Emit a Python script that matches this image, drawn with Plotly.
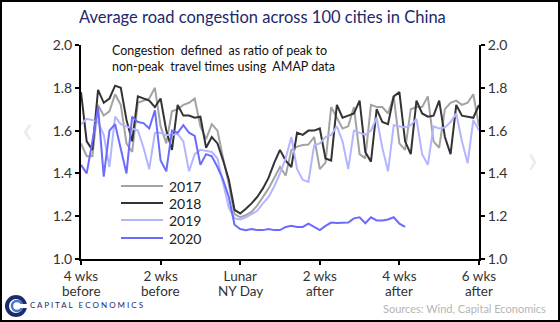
import plotly.graph_objects as go

# ---------------- data ----------------
days_all = list(range(-28, 43))      # days relative to Lunar New Year
days_2020 = list(range(-28, 30))

y2017 = [1.54, 1.48, 1.48, 1.72, 1.67, 1.69, 1.77, 1.72, 1.54, 1.50, 1.73, 1.74, 1.75, 1.80,
         1.62, 1.54, 1.69, 1.70, 1.72, 1.73, 1.75, 1.62, 1.56, 1.63, 1.60, 1.47, 1.35, 1.21,
         1.195, 1.205, 1.22, 1.25, 1.29, 1.33, 1.38, 1.43, 1.39, 1.51, 1.525, 1.533, 1.535, 1.57,
         1.42, 1.45, 1.71, 1.66, 1.61, 1.62, 1.71, 1.49, 1.47, 1.72, 1.71, 1.71, 1.68, 1.76,
         1.54, 1.51, 1.70, 1.71, 1.71, 1.76, 1.55, 1.52, 1.70, 1.73, 1.74, 1.72, 1.73, 1.77, 1.62]
y2018 = [1.78, 1.55, 1.51, 1.79, 1.73, 1.75, 1.81, 1.80, 1.65, 1.55, 1.76, 1.75, 1.74, 1.71,
         1.75, 1.60, 1.51, 1.72, 1.67, 1.67, 1.66, 1.665, 1.52, 1.57, 1.54, 1.46, 1.37, 1.23,
         1.213, 1.235, 1.26, 1.29, 1.33, 1.38, 1.45, 1.51, 1.46, 1.43, 1.59, 1.58, 1.60, 1.60,
         1.61, 1.47, 1.46, 1.72, 1.66, 1.67, 1.68, 1.74, 1.50, 1.455, 1.70, 1.64, 1.63, 1.76,
         1.78, 1.55, 1.49, 1.74, 1.68, 1.665, 1.67, 1.74, 1.57, 1.49, 1.72, 1.67, 1.665, 1.66, 1.72]
y2019 = [1.63, 1.655, 1.65, 1.64, 1.58, 1.43, 1.665, 1.63, 1.62, 1.61, 1.60, 1.52, 1.42, 1.59,
         1.59, 1.58, 1.58, 1.585, 1.55, 1.41, 1.49, 1.51, 1.505, 1.50, 1.47, 1.35, 1.24, 1.19,
         1.185, 1.195, 1.21, 1.225, 1.26, 1.29, 1.34, 1.40, 1.47, 1.57, 1.42, 1.37, 1.36, 1.53,
         1.54, 1.57, 1.58, 1.62, 1.55, 1.42, 1.60, 1.59, 1.58, 1.60, 1.66, 1.52, 1.41, 1.625,
         1.62, 1.615, 1.625, 1.655, 1.49, 1.44, 1.62, 1.61, 1.615, 1.64, 1.68, 1.55, 1.447, 1.65, 1.60]
y2020 = [1.44, 1.40, 1.55, 1.71, 1.385, 1.60, 1.63, 1.52, 1.40, 1.665, 1.64, 1.635, 1.61, 1.695,
         1.46, 1.41, 1.60, 1.59, 1.625, 1.59, 1.575, 1.44, 1.49, 1.48, 1.43, 1.37, 1.29, 1.16,
         1.14, 1.135, 1.14, 1.135, 1.135, 1.14, 1.135, 1.135, 1.15, 1.155, 1.15, 1.15, 1.165, 1.15,
         1.135, 1.155, 1.17, 1.168, 1.168, 1.17, 1.19, 1.195, 1.167, 1.195, 1.18, 1.18, 1.185,
         1.195, 1.165, 1.15]

x_tickvals = [-28, -14, 0, 14, 28, 42]
x_ticktext_top = ["4 wks", "2 wks", "Lunar", "2 wks", "4 wks", "6 wks"]
x_ticktext_bottom = ["before", "before", "NY Day", "after", "after", "after"]
y_tickvals = [1.0, 1.2, 1.4, 1.6, 1.8, 2.0]
y_ticktext = ["1.0", "1.2", "1.4", "1.6", "1.8", "2.0"]

series_names = ["2017", "2018", "2019", "2020"]
series_x = [days_all, days_all, days_all, days_2020]
series_y = [y2017, y2018, y2019, y2020]
series_colors = ["#a3a3a3", "#333333", "#b3b6ff", "#6b6bff"]

# ---------------- layout geometry ----------------
W, H = 560, 322
L, R, T, B = 81, 479, 45, 259
FONT = "Lato"


def px(xp):
    return (xp - L) / (R - L)


def py(yp):
    return (B - yp) / (B - T)


fig = go.Figure()
for name, xs, ys, col in zip(series_names, series_x, series_y, series_colors):
    fig.add_trace(go.Scatter(x=xs, y=ys, name=name, mode="lines",
                             line=dict(color=col, width=2), hoverinfo="skip"))
# transparent trace on the right-hand axis so it is drawn
fig.add_trace(go.Scatter(x=days_all, y=y2017, yaxis="y2", mode="lines",
                         line=dict(color="rgba(0,0,0,0)", width=0),
                         showlegend=False, hoverinfo="skip"))

axis_common = dict(showgrid=False, zeroline=False, showline=True, linecolor="black",
                   linewidth=2, ticks="outside", ticklen=4, tickwidth=1.5, tickcolor="black",
                   tickfont=dict(family=FONT, size=14, color="#333333"))
xaxis_style = dict(axis_common)
xaxis_style["tickfont"] = dict(family=FONT, size=13.5, color="#333333")

fig.update_layout(
    width=W, height=H, autosize=False,
    margin=dict(l=L, r=W - R, t=T, b=H - B, pad=0),
    paper_bgcolor="white", plot_bgcolor="white",
    showlegend=False,
    xaxis=dict(range=[-28, 42], tickvals=x_tickvals, ticktext=x_ticktext_top,
               ticklabelstandoff=0, **xaxis_style),
    yaxis=dict(range=[1.0, 2.0], tickvals=y_tickvals, ticktext=y_ticktext, **axis_common),
    yaxis2=dict(range=[1.0, 2.0], tickvals=y_tickvals, ticktext=y_ticktext,
                overlaying="y", side="right", **axis_common),
)

ann = []
ann.append(dict(text="Average road congestion across 100 cities in China",
                x=px(262), y=py(17), xref="paper", yref="paper", xanchor="center",
                yanchor="middle", showarrow=False,
                font=dict(family=FONT, size=16.5, color="#22286b")))
ann.append(dict(text="Congestion  defined  as ratio of peak to<br>non-peak  travel times using  AMAP data",
                x=px(110), y=py(41), xref="paper", yref="paper", xanchor="left",
                yanchor="top", align="left", showarrow=False,
                font=dict(family=FONT, size=12.5, color="#111111")))
# second line of x tick labels
for xv, txt in zip(x_tickvals, x_ticktext_bottom):
    ann.append(dict(text=txt, x=xv, y=py(291), xref="x", yref="paper",
                    xanchor="center", yanchor="middle", showarrow=False,
                    font=dict(family=FONT, size=13.5, color="#333333")))
# legend (manual, compact like the reference)
leg_y = [186, 203, 220, 238]
shapes = []
for name, col, yy in zip(series_names, series_colors, leg_y):
    shapes.append(dict(type="line", xref="paper", yref="paper",
                       x0=px(121), x1=px(163), y0=py(yy), y1=py(yy),
                       line=dict(color=col, width=2)))
    ann.append(dict(text=name, x=px(167), y=py(yy), xref="paper", yref="paper",
                    xanchor="left", yanchor="middle", showarrow=False,
                    font=dict(family=FONT, size=14, color="#222222")))
ann.append(dict(text="C A P I T A L   E C O N O M I C S",
                x=px(28), y=py(305), xref="paper", yref="paper", xanchor="left",
                yanchor="middle", showarrow=False,
                font=dict(family=FONT, size=8, color="#1c2a6e")))
ann.append(dict(text="Sources: Wind, Capital Economics",
                x=px(548), y=py(308), xref="paper", yref="paper", xanchor="right",
                yanchor="middle", showarrow=False,
                font=dict(family=FONT, size=11, color="#b5b5b5")))
ann.append(dict(text="‹", x=px(20), y=py(128), xref="paper", yref="paper",
                showarrow=False, font=dict(family=FONT, size=40, color="#ececec")))
ann.append(dict(text="›", x=px(540), y=py(158), xref="paper", yref="paper",
                showarrow=False, font=dict(family=FONT, size=40, color="#ececec")))
fig.update_layout(annotations=ann)

# outer frame
shapes.append(dict(type="rect", xref="paper", yref="paper",
                   x0=px(1), x1=px(W - 1), y0=py(H - 1), y1=py(1),
                   line=dict(color="black", width=2), fillcolor="rgba(0,0,0,0)", layer="above"))
# logo: navy C with lighter inner C
shapes.append(dict(type="circle", xref="paper", yref="paper",
                   x0=px(7), x1=px(25), y0=py(315), y1=py(297),
                   line=dict(color="#1c2a6e", width=4), fillcolor="rgba(0,0,0,0)"))
shapes.append(dict(type="circle", xref="paper", yref="paper",
                   x0=px(12), x1=px(22), y0=py(311), y1=py(301),
                   line=dict(color="#4a78c8", width=2.5), fillcolor="rgba(0,0,0,0)"))
shapes.append(dict(type="rect", xref="paper", yref="paper",
                   x0=px(18), x1=px(27), y0=py(308), y1=py(304),
                   line=dict(width=0), fillcolor="white"))
fig.update_layout(shapes=shapes)

fig.write_html("out.html")
